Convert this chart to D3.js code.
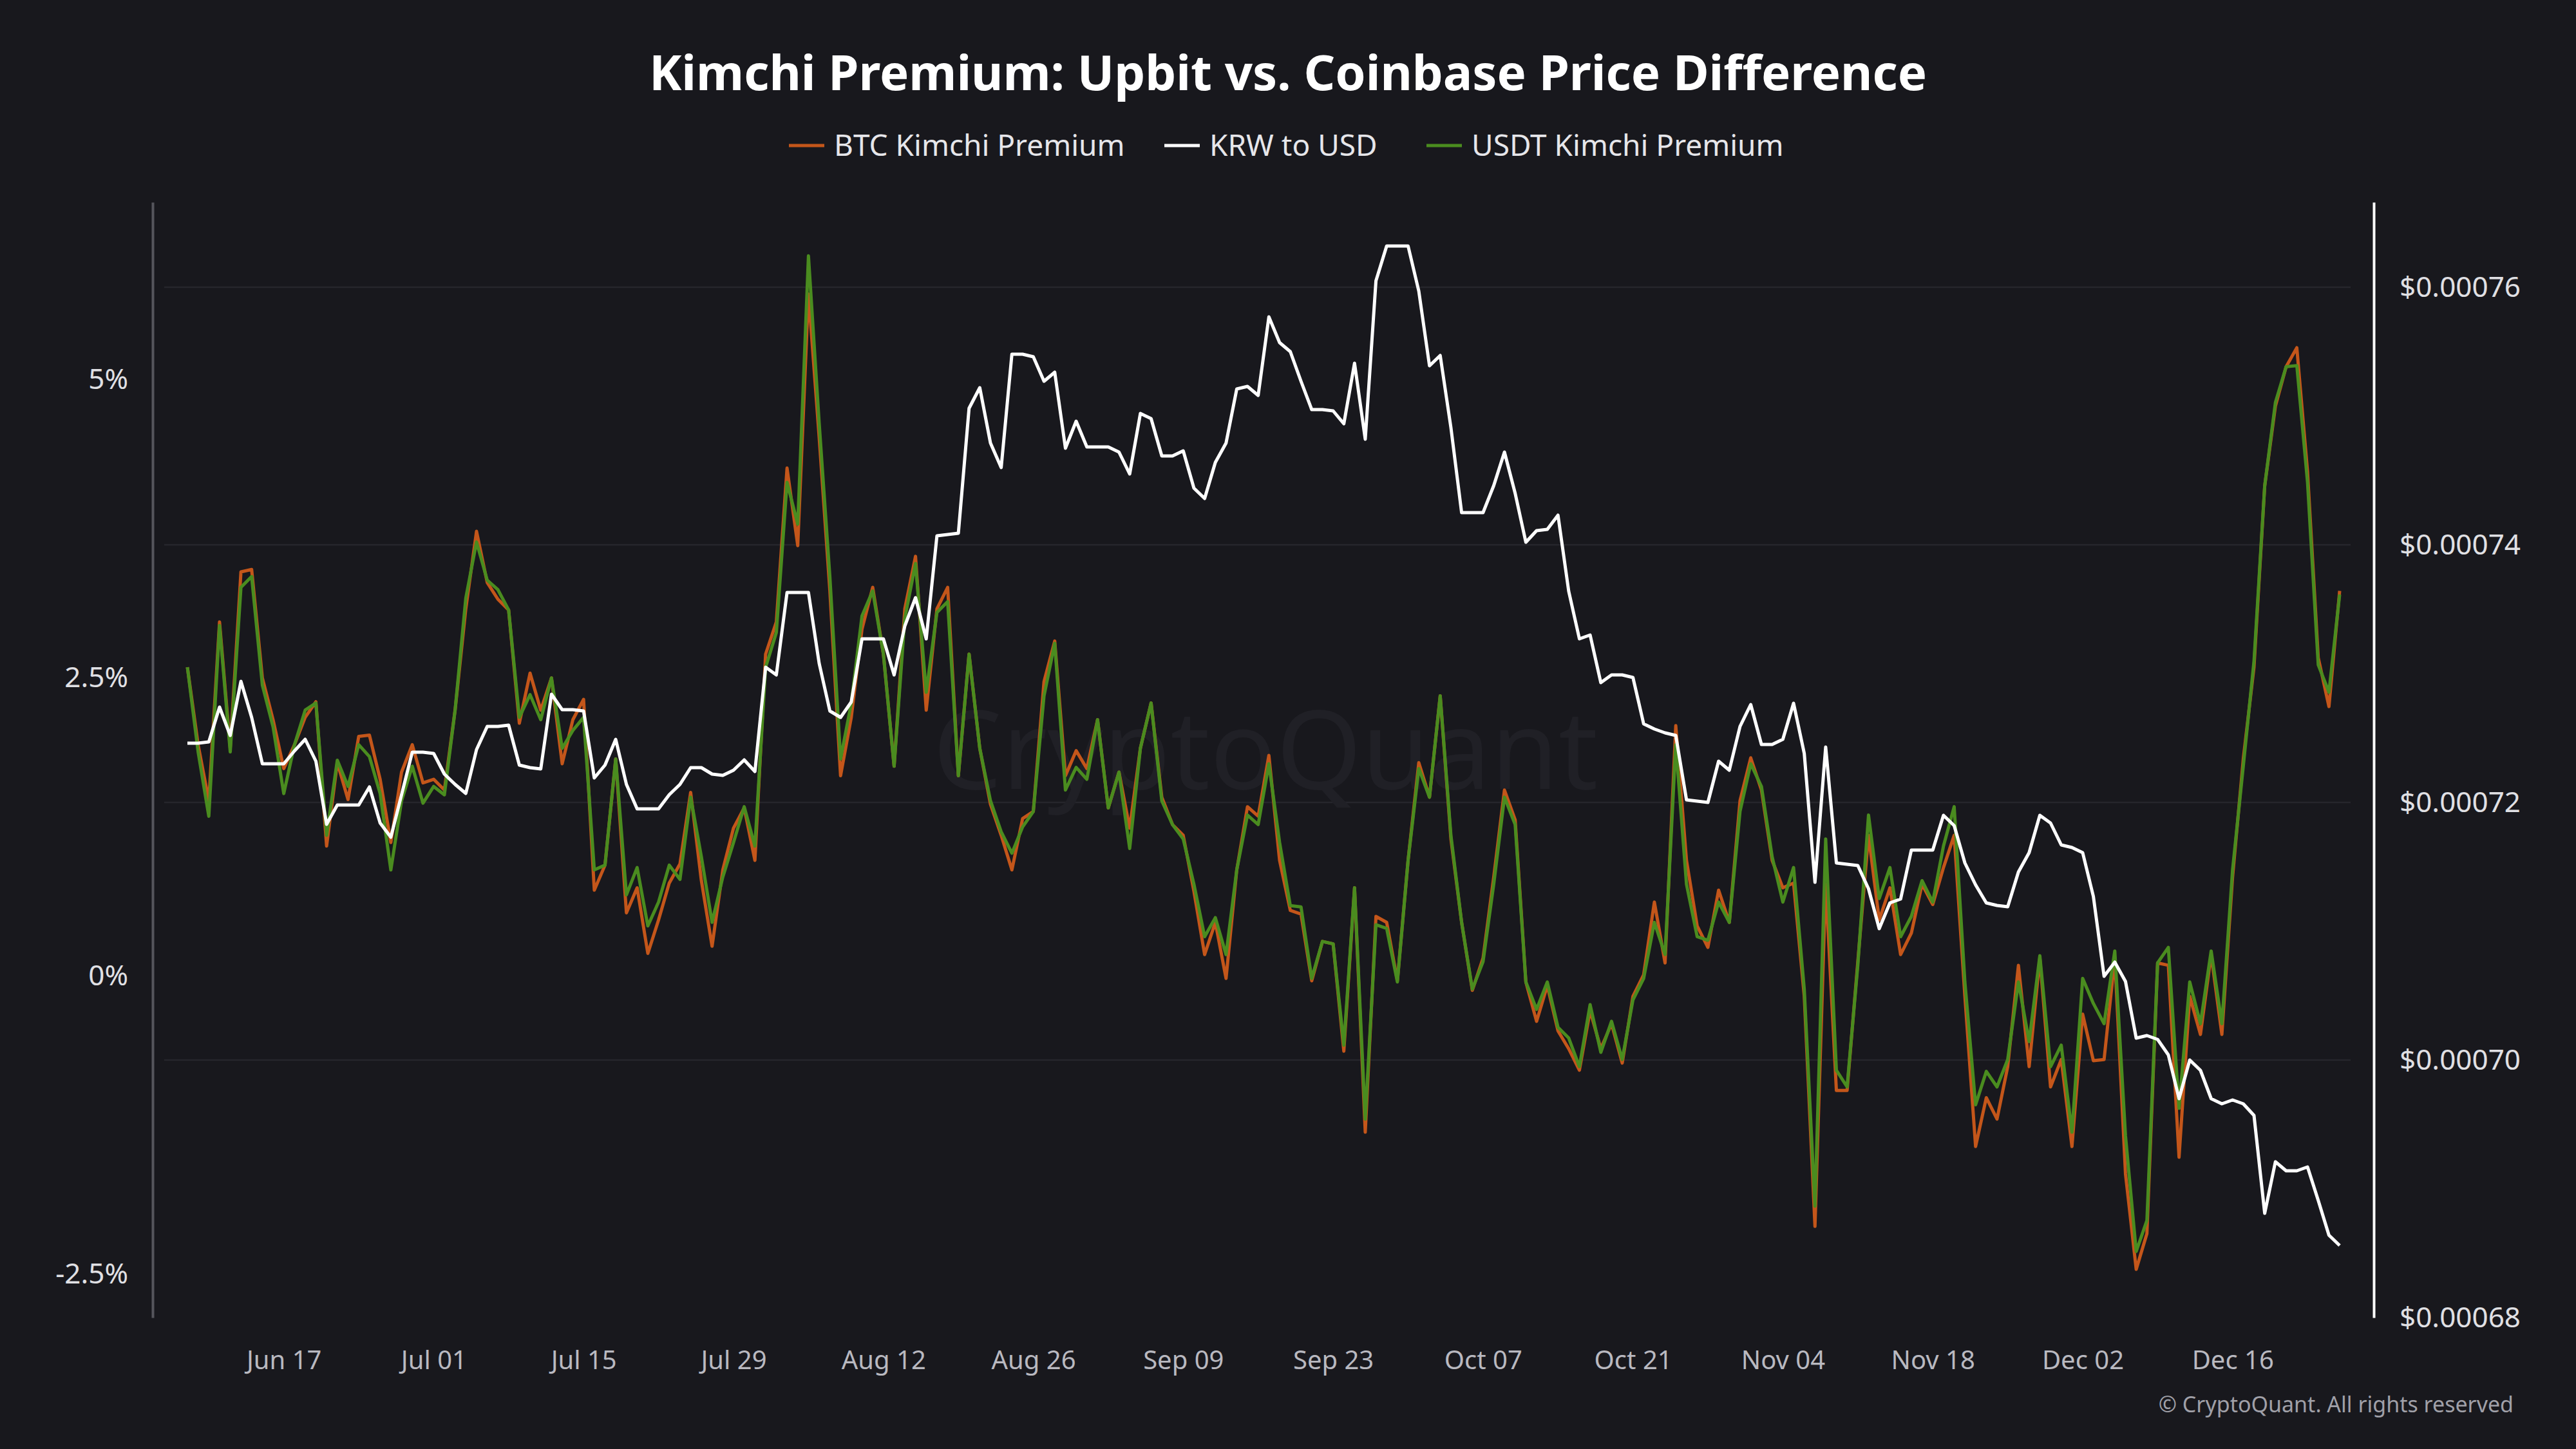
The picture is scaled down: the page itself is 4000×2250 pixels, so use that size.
<!DOCTYPE html>
<html>
<head>
<meta charset="utf-8">
<script src="https://cdn.jsdelivr.net/npm/d3@7"></script>
<style>
  body { margin: 0; background: #18181d; }
  svg { display: block; }
  text { font-family: "Noto Sans", "Open Sans", sans-serif; }
</style>
</head>
<body>
<svg id="chart" width="4000" height="2250"></svg>
<script>
const width = 4000;
const height = 2250;

/* DATA (daily, from Jun 8 2024) */
const startDate = new Date(2024, 5, 8);

const btcPremium = [
  2.59, 1.94, 1.47, 2.97, 1.91, 3.39, 3.41, 2.50, 2.15, 1.74,
  1.94, 2.17, 2.30, 1.09, 1.79, 1.48, 2.01, 2.02, 1.65, 1.12,
  1.71, 1.94, 1.62, 1.65, 1.56, 2.23, 3.08, 3.73, 3.30, 3.16,
  3.07, 2.12, 2.54, 2.23, 2.50, 1.78, 2.15, 2.32, 0.72, 0.93,
  1.82, 0.53, 0.74, 0.19, 0.47, 0.78, 0.94, 1.54, 0.80, 0.25,
  0.89, 1.24, 1.41, 0.97, 2.70, 2.97, 4.26, 3.61, 5.72, 4.52,
  3.23, 1.68, 2.17, 2.91, 3.26, 2.70, 1.76, 3.08, 3.52, 2.23,
  3.08, 3.26, 1.68, 2.70, 1.91, 1.44, 1.18, 0.89, 1.32, 1.38,
  2.47, 2.81, 1.68, 1.89, 1.74, 2.15, 1.41, 1.71, 1.24, 1.91,
  2.29, 1.50, 1.27, 1.18, 0.71, 0.18, 0.45, -0.02, 0.89, 1.42,
  1.34, 1.85, 0.97, 0.55, 0.52, -0.04, 0.29, 0.27, -0.63, 0.74,
  -1.31, 0.50, 0.45, -0.04, 0.97, 1.79, 1.50, 2.35, 1.15, 0.45,
  -0.12, 0.15, 0.83, 1.56, 1.31, -0.05, -0.38, -0.08, -0.46, -0.61,
  -0.79, -0.29, -0.61, -0.40, -0.73, -0.17, 0.01, 0.62, 0.11, 2.10,
  0.97, 0.42, 0.24, 0.72, 0.45, 1.47, 1.83, 1.56, 0.97, 0.74,
  0.78, -0.17, -2.10, 0.77, -0.96, -0.96, 0.12, 1.18, 0.47, 0.74,
  0.18, 0.36, 0.77, 0.60, 0.91, 1.18, -0.17, -1.43, -1.02, -1.20,
  -0.76, 0.09, -0.76, 0.15, -0.93, -0.70, -1.43, -0.32, -0.71, -0.70,
  0.15, -1.66, -2.46, -2.16, 0.11, 0.09, -1.52, -0.17, -0.49, 0.18,
  -0.49, 0.83, 1.82, 2.59, 4.11, 4.78, 5.11, 5.27, 4.23, 2.67,
  2.26, 3.23
];

const usdtPremium = [
  2.59, 1.88, 1.34, 2.94, 1.88, 3.26, 3.35, 2.44, 2.09, 1.53,
  1.94, 2.23, 2.29, 1.18, 1.81, 1.59, 1.94, 1.84, 1.53, 0.89,
  1.47, 1.76, 1.45, 1.59, 1.52, 2.23, 3.17, 3.64, 3.32, 3.24,
  3.07, 2.17, 2.36, 2.15, 2.50, 1.91, 2.06, 2.17, 0.89, 0.93,
  1.82, 0.68, 0.91, 0.42, 0.62, 0.93, 0.81, 1.50, 1.00, 0.45,
  0.83, 1.12, 1.42, 1.09, 2.59, 2.88, 4.14, 3.79, 6.04, 4.64,
  3.35, 1.82, 2.29, 3.02, 3.23, 2.70, 1.76, 3.00, 3.46, 2.38,
  3.05, 3.14, 1.68, 2.70, 1.91, 1.47, 1.21, 1.03, 1.25, 1.38,
  2.35, 2.79, 1.56, 1.75, 1.65, 2.15, 1.41, 1.71, 1.07, 1.91,
  2.29, 1.47, 1.27, 1.15, 0.77, 0.33, 0.49, 0.18, 0.89, 1.35,
  1.27, 1.78, 1.12, 0.59, 0.58, -0.02, 0.29, 0.27, -0.58, 0.74,
  -1.20, 0.43, 0.40, -0.05, 0.97, 1.74, 1.50, 2.35, 1.18, 0.45,
  -0.11, 0.12, 0.77, 1.50, 1.27, -0.05, -0.28, -0.05, -0.43, -0.52,
  -0.76, -0.24, -0.64, -0.38, -0.70, -0.20, -0.02, 0.45, 0.18, 1.94,
  0.77, 0.33, 0.30, 0.62, 0.45, 1.38, 1.78, 1.59, 1.00, 0.62,
  0.91, -0.11, -1.93, 1.15, -0.79, -0.93, 0.09, 1.35, 0.65, 0.91,
  0.33, 0.50, 0.80, 0.62, 1.09, 1.42, -0.05, -1.08, -0.80, -0.93,
  -0.70, -0.05, -0.55, 0.17, -0.76, -0.58, -1.31, -0.02, -0.23, -0.40,
  0.21, -1.34, -2.31, -2.05, 0.11, 0.24, -1.11, -0.05, -0.40, 0.21,
  -0.40, 0.89, 1.76, 2.64, 4.11, 4.81, 5.11, 5.12, 4.14, 2.61,
  2.38, 3.20
];

// KRW to USD, in units of 1e-5 USD
const krwUsd = [
  72.46, 72.46, 72.47, 72.74, 72.52, 72.94, 72.66, 72.30, 72.30, 72.30,
  72.40, 72.49, 72.32, 71.83, 71.98, 71.98, 71.98, 72.12, 71.84, 71.73,
  72.06, 72.39, 72.39, 72.38, 72.22, 72.14, 72.07, 72.41, 72.59, 72.59,
  72.60, 72.29, 72.27, 72.26, 72.84, 72.72, 72.72, 72.71, 72.19, 72.29,
  72.49, 72.14, 71.95, 71.95, 71.95, 72.06, 72.14, 72.27, 72.27, 72.22,
  72.21, 72.25, 72.33, 72.24, 73.05, 72.99, 73.63, 73.63, 73.63, 73.08,
  72.71, 72.66, 72.78, 73.27, 73.27, 73.27, 72.99, 73.37, 73.59, 73.27,
  74.07, 74.08, 74.09, 75.06, 75.22, 74.79, 74.60, 75.48, 75.48, 75.46,
  75.27, 75.34, 74.75, 74.96, 74.76, 74.76, 74.76, 74.72, 74.55, 75.02,
  74.98, 74.69, 74.69, 74.73, 74.44, 74.36, 74.64, 74.79, 75.21, 75.23,
  75.16, 75.77, 75.57, 75.50, 75.27, 75.05, 75.05, 75.04, 74.94, 75.41,
  74.82, 76.05, 76.32, 76.32, 76.32, 75.97, 75.39, 75.47, 74.91, 74.25,
  74.25, 74.25, 74.46, 74.72, 74.40, 74.02, 74.11, 74.12, 74.23, 73.64,
  73.27, 73.30, 72.93, 72.99, 72.99, 72.97, 72.61, 72.57, 72.54, 72.52,
  72.02, 72.01, 72.00, 72.32, 72.25, 72.59, 72.76, 72.45, 72.45, 72.49,
  72.77, 72.38, 71.38, 72.43, 71.53, 71.52, 71.51, 71.33, 71.02, 71.22,
  71.25, 71.63, 71.63, 71.63, 71.90, 71.82, 71.53, 71.36, 71.22, 71.20,
  71.19, 71.46, 71.61, 71.90, 71.84, 71.67, 71.65, 71.61, 71.27, 70.65,
  70.76, 70.61, 70.17, 70.19, 70.16, 70.04, 69.70, 70.00, 69.92, 69.70,
  69.66, 69.69, 69.66, 69.57, 68.81, 69.21, 69.14, 69.14, 69.17, 68.91,
  68.64, 68.56
];

const leftTicks = [-2.5, 0, 2.5, 5];
const rightTicks = [0.00068, 0.0007, 0.00072, 0.00074, 0.00076];
const xTickDates = ["2024-06-17", "2024-07-01", "2024-07-15", "2024-07-29", "2024-08-12",
  "2024-08-26", "2024-09-09", "2024-09-23", "2024-10-07", "2024-10-21", "2024-11-04",
  "2024-11-18", "2024-12-02", "2024-12-16"];

const legendItems = [
  { name: "BTC Kimchi Premium", color: "#c4561a" },
  { name: "KRW to USD", color: "#ffffff" },
  { name: "USDT Kimchi Premium", color: "#4a8c1f" }
];

const rows = btcPremium.map((v, i) => ({
  date: d3.timeDay.offset(startDate, i),
  btc: v,
  usdt: usdtPremium[i],
  krw: krwUsd[i] * 1e-5
}));

/* LAYOUT */
const plot = { left: 237, right: 3686, top: 314, bottom: 2046 };

const svg = d3.select("#chart");
svg.append("rect").attr("width", width).attr("height", height).attr("fill", "#18181d");

/* SCALES */
const x = d3.scaleTime()
  .domain([startDate, d3.timeDay.offset(startDate, rows.length - 1)])
  .range([291, 3633]);
const yLeft = d3.scaleLinear().domain([-2.865, 6.49]).range([plot.bottom, plot.top]);
const yRight = d3.scaleLinear().domain([0.00068, 0.0007666]).range([plot.bottom, plot.top]);

/* GRID */
svg.append("g").selectAll("line")
  .data(rightTicks.slice(1))
  .join("line")
  .attr("x1", 255).attr("x2", 3650)
  .attr("y1", d => yRight(d)).attr("y2", d => yRight(d))
  .attr("stroke", "#26262c").attr("stroke-width", 2.5);

/* WATERMARK */
svg.append("text")
  .attr("x", 1965).attr("y", 1225)
  .attr("text-anchor", "middle")
  .attr("font-size", 170)
  .attr("fill", "#202026")
  .text("CryptoQuant");

/* AXES */
const xAxis = d3.axisBottom(x)
  .tickValues(xTickDates.map(d => d3.timeParse("%Y-%m-%d")(d)))
  .tickFormat(d3.timeFormat("%b %d"))
  .tickSize(0).tickPadding(52);
const xg = svg.append("g").attr("transform", `translate(0,${plot.bottom})`).call(xAxis);
xg.select(".domain").remove();
xg.selectAll("text").attr("font-size", 40).attr("fill", "#b9b9c0");

const lg = svg.append("g").attr("transform", `translate(${plot.left},0)`)
  .call(d3.axisLeft(yLeft).tickValues(leftTicks).tickSize(0).tickPadding(38)
    .tickFormat(d => d + "%"));
lg.select(".domain").attr("stroke", "#55555c").attr("stroke-width", 4);
lg.selectAll("text").attr("font-size", 44).attr("fill", "#e0e0e4");

const rg = svg.append("g").attr("transform", `translate(${plot.right},0)`)
  .call(d3.axisRight(yRight).tickValues(rightTicks).tickSize(0).tickPadding(40)
    .tickFormat(d => "$" + d3.format(".5f")(d)));
rg.select(".domain").attr("stroke", "#ffffff").attr("stroke-width", 4);
rg.selectAll("text").attr("font-size", 44).attr("fill", "#e0e0e4");

/* LINES */
const lineBtc = d3.line().x(d => x(d.date)).y(d => yLeft(d.btc));
const lineUsdt = d3.line().x(d => x(d.date)).y(d => yLeft(d.usdt));
const lineKrw = d3.line().x(d => x(d.date)).y(d => yRight(d.krw));

svg.append("path").datum(rows).attr("d", lineBtc)
  .attr("fill", "none").attr("stroke", "#c4561a").attr("stroke-width", 5).attr("stroke-linejoin", "round");
svg.append("path").datum(rows).attr("d", lineUsdt)
  .attr("fill", "none").attr("stroke", "#4a8c1f").attr("stroke-width", 5).attr("stroke-linejoin", "round");
svg.append("path").datum(rows).attr("d", lineKrw)
  .attr("fill", "none").attr("stroke", "#ffffff").attr("stroke-width", 5).attr("stroke-linejoin", "round");

/* TITLE */
svg.append("text")
  .attr("x", width / 2).attr("y", 140)
  .attr("text-anchor", "middle")
  .attr("font-size", 76).attr("font-weight", "bold")
  .attr("fill", "#ffffff")
  .text("Kimchi Premium: Upbit vs. Coinbase Price Difference");

/* LEGEND */
const legendX = [1225, 1808, 2215];
const legend = svg.append("g");
legendItems.forEach((item, i) => {
  const g = legend.append("g").attr("transform", `translate(${legendX[i]},222)`);
  g.append("line").attr("x1", 0).attr("x2", 55).attr("y1", 4).attr("y2", 4)
    .attr("stroke", item.color).attr("stroke-width", 5);
  g.append("text").attr("x", 70).attr("y", 20)
    .attr("font-size", 46).attr("fill", "#e6e6ea").text(item.name);
});

/* CREDIT */
svg.append("text")
  .attr("x", 3903).attr("y", 2193)
  .attr("text-anchor", "end")
  .attr("font-size", 34).attr("fill", "#a0a0a8")
  .text("© CryptoQuant. All rights reserved");
</script>
</body>
</html>
